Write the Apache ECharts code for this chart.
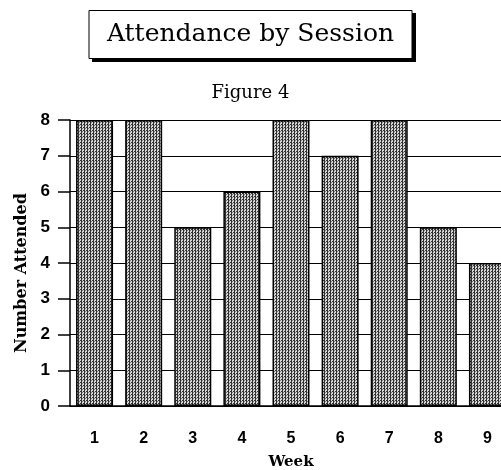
<!DOCTYPE html>
<html>
<head>
<meta charset="utf-8">
<script src="https://cdn.jsdelivr.net/npm/echarts@6/dist/echarts.min.js"></script>
<style>
  html, body { margin: 0; padding: 0; background: #fff; }
  #chart { width: 501px; height: 470px; }
</style>
</head>
<body>
<div id="chart"></div>
<script>
// 数据
const weeks = ['1', '2', '3', '4', '5', '6', '7', '8', '9']
const attended = [8, 8, 5, 6, 8, 7, 8, 5, 4]

// 点阵灰色填充（模仿扫描的网点）
function makeDots() {
  const c = document.createElement('canvas')
  c.width = 3
  c.height = 3
  const ctx = c.getContext('2d')
  ctx.fillStyle = '#d8d8d8'
  ctx.fillRect(0, 0, 3, 3)
  ctx.fillStyle = '#303030'
  ctx.fillRect(0, 0, 1, 3)
  ctx.fillRect(2, 1, 1, 1)
  ctx.fillStyle = '#7a7a7a'
  ctx.fillRect(1, 2, 1, 1)
  return c
}

const chart = echarts.init(document.getElementById('chart'))

const option = {
  backgroundColor: '#fff',
  animation: false,
  title: [
    {
      text: 'Attendance by Session',
      left: 'center',
      top: 10,
      padding: [12, 18, 12, 18],
      borderColor: '#000',
      borderWidth: 1,
      backgroundColor: '#fff',
      z: 10,
      textStyle: {
        fontFamily: 'DejaVu Serif',
        fontSize: 25,
        fontWeight: 'normal',
        color: '#000'
      }
    },
    {
      text: 'Figure 4',
      left: 'center',
      top: 79,
      textStyle: {
        fontFamily: 'DejaVu Serif',
        fontSize: 18,
        fontWeight: 'normal',
        color: '#000'
      }
    }
  ],
  // 标题框的阴影
  graphic: [
    {
      type: 'rect',
      z: 1,
      shape: { x: 92, y: 13, width: 324, height: 49 },
      style: { fill: '#000' }
    }
  ],
  grid: {
    left: 70,
    width: 442,
    top: 120,
    bottom: 64,
    outerBoundsMode: 'none'
  },
  xAxis: {
    type: 'category',
    data: weeks,
    name: 'Week',
    nameLocation: 'middle',
    nameGap: 49,
    nameTextStyle: {
      fontFamily: 'DejaVu Serif',
      fontSize: 15,
      fontWeight: 'bold',
      color: '#000'
    },
    axisLine: { lineStyle: { color: '#000', width: 1.5 } },
    axisTick: {
      alignWithLabel: true,
      length: 12,
      lineStyle: { color: '#000', width: 1.5 }
    },
    axisLabel: {
      margin: 25,
      fontFamily: 'Liberation Sans',
      fontSize: 16,
      fontWeight: 'bold',
      color: '#000'
    }
  },
  yAxis: {
    type: 'value',
    min: 0,
    max: 8,
    interval: 1,
    name: 'Number Attended',
    nameLocation: 'middle',
    nameGap: 38,
    nameTextStyle: {
      fontFamily: 'DejaVu Serif',
      fontSize: 16,
      fontWeight: 'bold',
      color: '#000',
      padding: [0, 20, 0, 0]
    },
    axisLine: { show: true, lineStyle: { color: '#000', width: 1.5 } },
    axisTick: { show: true, length: 12, lineStyle: { color: '#000', width: 1.5 } },
    axisLabel: {
      margin: 20,
      fontFamily: 'Liberation Sans',
      fontSize: 17,
      fontWeight: 'bold',
      color: '#000'
    },
    splitLine: { show: true, lineStyle: { color: '#000', width: 1.2 } }
  },
  series: [
    {
      type: 'bar',
      data: attended,
      barWidth: 37,
      itemStyle: {
        color: { image: makeDots(), repeat: 'repeat' },
        borderColor: '#000',
        borderWidth: 1.5
      }
    }
  ]
}

chart.setOption(option)
</script>
</body>
</html>
